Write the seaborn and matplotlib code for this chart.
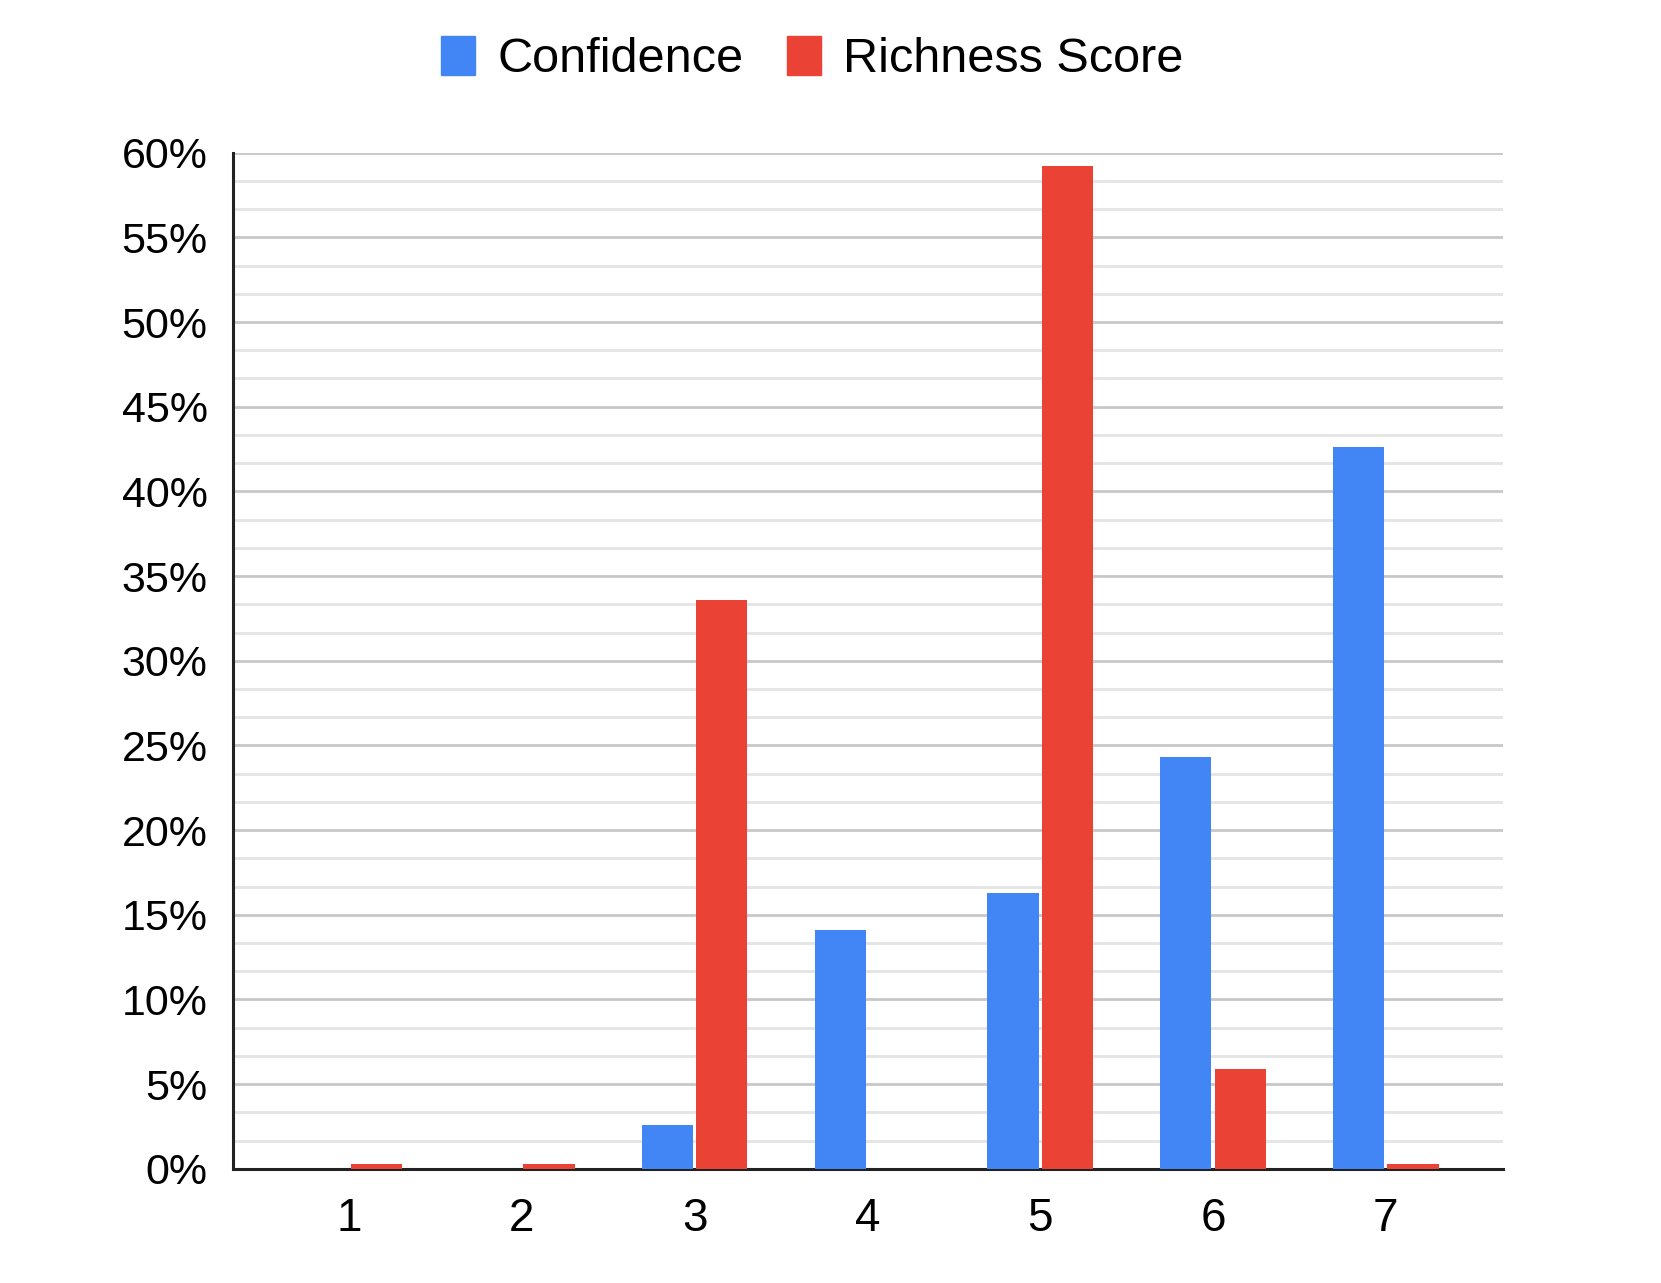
import numpy as np
import pandas as pd
import matplotlib.pyplot as plt
import seaborn as sns
from matplotlib.ticker import PercentFormatter, MultipleLocator

# Data (fractions)
categories = ["1", "2", "3", "4", "5", "6", "7"]
confidence = [0.0, 0.0, 0.026, 0.141, 0.163, 0.243, 0.426]
richness = [0.003, 0.003, 0.336, 0.0, 0.592, 0.059, 0.003]
series_names = ["Confidence", "Richness Score"]
colors = ["#4285F4", "#EA4335"]

df = pd.DataFrame({
    "category": categories * 2,
    "value": confidence + richness,
    "series": [series_names[0]] * len(categories) + [series_names[1]] * len(categories),
})

sns.set_style("white")
plt.rcParams["font.family"] = ["Liberation Sans", "DejaVu Sans"]
plt.rcParams["text.color"] = "black"
plt.rcParams["xtick.color"] = "black"
plt.rcParams["ytick.color"] = "black"

fig = plt.figure(figsize=(16.61, 12.83), dpi=100)
ax = fig.add_axes([0.140, 0.089, 0.765, 0.792])

sns.barplot(data=df, x="category", y="value", hue="series", order=categories,
            hue_order=series_names, palette=colors, width=0.63, gap=0.06,
            saturation=1, linewidth=0, ax=ax, zorder=3)

ax.set_ylim(0, 0.60)
ax.set_xlim(-0.674, 6.68)
ax.yaxis.set_major_locator(MultipleLocator(0.05))
ax.yaxis.set_minor_locator(MultipleLocator(0.05 / 3))
ax.yaxis.set_major_formatter(PercentFormatter(1, decimals=0))
ax.grid(axis="y", which="major", color="#c8c8c8", linewidth=2, zorder=0)
ax.grid(axis="y", which="minor", color="#e4e4e4", linewidth=2, zorder=0)
ax.set_axisbelow(True)

ax.set_xlabel("")
ax.set_ylabel("")
ax.tick_params(axis="y", which="both", length=0, labelsize=31, pad=18)
ax.tick_params(axis="x", length=0, labelsize=33, pad=20)

for s in ["top", "right"]:
    ax.spines[s].set_visible(False)
for s in ["left", "bottom"]:
    ax.spines[s].set_color("#222222")
    ax.spines[s].set_linewidth(2.2)

ax.legend_.remove()
handles = [plt.Rectangle((0, 0), 1, 1, color=c) for c in colors]
fig.legend(handles, series_names, loc="center", bbox_to_anchor=(0.489, 0.954),
           ncol=2, frameon=False, fontsize=35, handlelength=0.7, handleheight=0.85,
           handletextpad=0.45, columnspacing=0.9)

fig.savefig("out.png", dpi=100)
